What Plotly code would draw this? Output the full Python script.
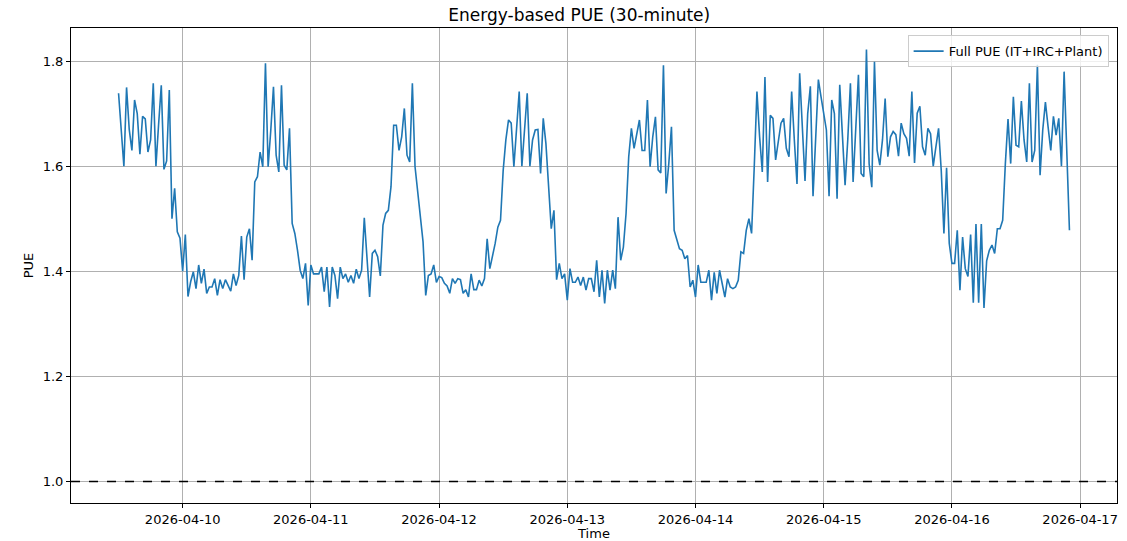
import pandas as pd
import plotly.graph_objects as go

START_TIME = "2026-04-09 12:00"
FREQ = "30min"
SERIES_NAME = "Full PUE (IT+IRC+Plant)"
REF_LEVEL = 1.0

pue_day1 = [1.739, 1.67, 1.60, 1.75, 1.67, 1.63, 1.726, 1.70, 1.623, 1.695, 1.69, 1.627, 1.65, 1.758,
            1.60, 1.68, 1.754, 1.594, 1.61, 1.745, 1.50, 1.558, 1.475, 1.463, 1.40, 1.47, 1.352, 1.38]
pue_day2 = [1.399, 1.367, 1.412, 1.377, 1.404, 1.358, 1.370, 1.370, 1.386, 1.354, 1.384, 1.367, 1.384,
            1.373, 1.362, 1.395, 1.373, 1.392, 1.467, 1.384, 1.465, 1.481, 1.421, 1.570, 1.58, 1.627,
            1.599, 1.796, 1.599,
            1.669, 1.751, 1.621, 1.589, 1.754, 1.602, 1.593, 1.672, 1.491, 1.472, 1.44, 1.402, 1.386,
            1.415, 1.335, 1.412, 1.395, 1.395, 1.395, 1.408, 1.361, 1.408, 1.332, 1.408, 1.392, 1.348,
            1.408, 1.386, 1.395, 1.379, 1.392]
pue_day3 = [1.377, 1.404, 1.386, 1.402, 1.502, 1.415, 1.351, 1.434, 1.44, 1.428, 1.391, 1.488, 1.51,
            1.516, 1.561, 1.678, 1.678, 1.630, 1.656, 1.710, 1.621, 1.608, 1.758, 1.599, 1.554, 1.503,
            1.456, 1.354, 1.392, 1.395, 1.412,
            1.379, 1.390, 1.388, 1.377, 1.372, 1.358, 1.386, 1.377, 1.386, 1.384, 1.358, 1.365, 1.351,
            1.395, 1.365, 1.365, 1.383, 1.372, 1.386, 1.462, 1.405, 1.428, 1.453, 1.484, 1.497, 1.592,
            1.650, 1.688, 1.682]
pue_day4 = [1.599, 1.669, 1.742, 1.600, 1.669, 1.739, 1.600, 1.650, 1.669, 1.670, 1.586, 1.691, 1.643,
            1.567, 1.481, 1.516, 1.384, 1.415, 1.386, 1.395, 1.345, 1.405, 1.379, 1.379, 1.389, 1.373,
            1.389, 1.364, 1.386, 1.386,
            1.361, 1.421, 1.351, 1.402, 1.339, 1.402, 1.364, 1.402, 1.367, 1.503, 1.421, 1.446, 1.51,
            1.618, 1.672, 1.634, 1.659, 1.688, 1.630, 1.630, 1.726, 1.599, 1.656, 1.694, 1.593, 1.587,
            1.792, 1.548, 1.605, 1.675, 1.478]
pue_day5 = [1.459, 1.443, 1.44, 1.424, 1.43, 1.370, 1.383, 1.351, 1.412, 1.379, 1.379, 1.379, 1.402,
            1.345, 1.398, 1.358, 1.402, 1.377, 1.351, 1.386, 1.370, 1.367, 1.370, 1.383, 1.437, 1.434,
            1.478, 1.5, 1.472, 1.60,
            1.742, 1.656, 1.589, 1.770, 1.570, 1.697, 1.691, 1.612, 1.65, 1.682, 1.691, 1.634, 1.618,
            1.742, 1.65, 1.566, 1.777, 1.669, 1.572, 1.7, 1.752, 1.543, 1.65, 1.765, 1.732, 1.697,
            1.669, 1.543, 1.726, 1.70]
pue_day6 = [1.538, 1.755, 1.669, 1.564, 1.65, 1.758, 1.570, 1.669, 1.774, 1.586, 1.580, 1.822, 1.605,
            1.560, 1.799, 1.630, 1.602, 1.65, 1.729, 1.618, 1.656, 1.666, 1.66, 1.619, 1.682, 1.662,
            1.653, 1.619, 1.742,
            1.606, 1.701, 1.714, 1.637, 1.621, 1.672, 1.662, 1.60, 1.637, 1.672, 1.592, 1.472, 1.597,
            1.453, 1.415, 1.415, 1.478, 1.364, 1.465, 1.405, 1.39, 1.47, 1.34, 1.49, 1.34, 1.49, 1.33,
            1.42, 1.44, 1.45]
pue_day7 = [1.434, 1.481, 1.481, 1.497, 1.605, 1.69, 1.605, 1.732, 1.64, 1.637, 1.724, 1.65, 1.608,
            1.758, 1.608, 1.63, 1.793, 1.583, 1.669, 1.722, 1.675, 1.63, 1.695, 1.659, 1.691, 1.60,
            1.78, 1.63, 1.478]

pue = pue_day1 + pue_day2 + pue_day3 + pue_day4 + pue_day5 + pue_day6 + pue_day7
times = pd.date_range(START_TIME, periods=len(pue), freq=FREQ)

y_ticks = [1.0, 1.2, 1.4, 1.6, 1.8]
y_tick_labels = ["1.0", "1.2", "1.4", "1.6", "1.8"]
x_ticks = pd.date_range("2026-04-10", "2026-04-17", freq="D")
x_tick_labels = [d.strftime("%Y-%m-%d") for d in x_ticks]

# matplotlib-like 5% margins
span = times[-1] - times[0]
x_range = [times[0] - span * 0.05, times[-1] + span * 0.05]
ymin = min(min(pue), REF_LEVEL)
ymax = max(pue)
ypad = (ymax - ymin) * 0.05
y_range = [ymin - ypad, ymax + ypad]

font = "DejaVu Sans"
fig = go.Figure()
fig.add_trace(go.Scatter(x=times, y=pue, mode="lines", name=SERIES_NAME,
                         line=dict(color="#1f77b4", width=1.6)))
fig.add_hline(y=REF_LEVEL, line=dict(color="black", width=1.5, dash="dash"))

axis_common = dict(showline=True, linecolor="black", linewidth=1, mirror=True,
                   ticks="outside", ticklen=4, tickcolor="black", automargin=False,
                   showgrid=True, gridcolor="#b0b0b0", gridwidth=1, zeroline=False,
                   tickfont=dict(family=font, size=13, color="black"))
fig.update_xaxes(range=x_range, tickvals=x_ticks, ticktext=x_tick_labels,
                 title=dict(text="Time", font=dict(family=font, size=13, color="black"), standoff=4),
                 **axis_common)
fig.update_yaxes(range=y_range, tickvals=y_ticks, ticktext=y_tick_labels,
                 title=dict(text="PUE", font=dict(family=font, size=13, color="black"), standoff=6),
                 **axis_common)

fig.update_layout(
    width=1127, height=541,
    margin=dict(l=71, r=10, t=28, b=38),
    paper_bgcolor="white", plot_bgcolor="white",
    title=dict(text="Energy-based PUE (30-minute)", x=0.514, xanchor="center", y=0.972, yanchor="middle",
               font=dict(family=font, size=17, color="black")),
    showlegend=True,
    legend=dict(x=0.992, y=0.985, xanchor="right", yanchor="top",
                bgcolor="rgba(255,255,255,0.8)", bordercolor="#cccccc", borderwidth=1,
                font=dict(family=font, size=13, color="black")),
    font=dict(family=font),
)

fig.write_html("out.html", config={"displayModeBar": False},
               post_script="document.body.style.margin='0';document.body.style.overflow='hidden';")
